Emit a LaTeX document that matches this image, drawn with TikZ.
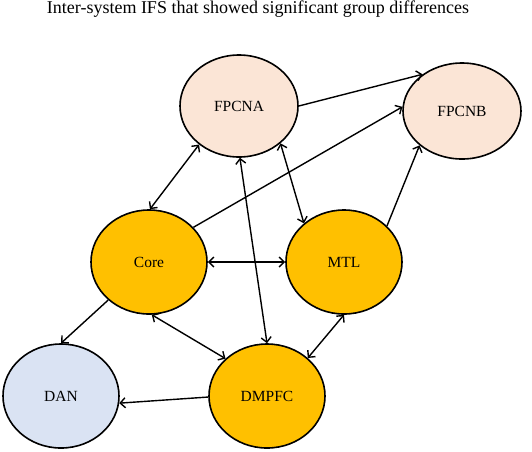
\documentclass[tikz,border=0pt]{standalone}
\usepackage{fontspec}
\setmainfont{Liberation Serif}
\usetikzlibrary{shapes.geometric,arrows.meta}
\definecolor{peach}{HTML}{FBE5D6}
\definecolor{gold}{HTML}{FFC000}
\definecolor{lblue}{HTML}{DAE3F3}
\tikzset{
  net/.style={ellipse, draw=black, line width=1.6pt, minimum width=116pt, minimum height=104pt, inner sep=0pt, font=\fontsize{15.5}{18}\selectfont},
  link/.style={line width=1.4pt, draw=black},
  tip/.style={-{Straight Barb[length=5pt,width=10pt,line width=1.4pt]}},
  tips/.style={{Straight Barb[length=5pt,width=10pt,line width=1.4pt]}-{Straight Barb[length=5pt,width=10pt,line width=1.4pt]}}
}
\begin{document}
\begin{tikzpicture}[x=1pt,y=-1pt]
\useasboundingbox (0,0) rectangle (532,451);
\node[font=\fontsize{18}{20}\selectfont] (title) at (258,9) {Inter-system IFS that showed significant group differences};
\node[net, fill=peach, minimum width=118pt, minimum height=102pt] (fpcna) at (239,106) {FPCNA};
\node[net, fill=peach, minimum width=118pt, minimum height=96pt] (fpcnb) at (462,111) {FPCNB};
\node[net, fill=gold] (core) at (149,262) {Core};
\node[net, fill=gold] (mtl) at (344,262) {MTL};
\node[net, fill=lblue] (dan) at (61,396) {DAN};
\node[net, fill=gold] (dmpfc) at (267,396) {DMPFC};
\draw[link,tip] (fpcna.0) -- (fpcnb.137);
\draw[link,tip] (core.38) -- (fpcnb.176);
\draw[link,tip] (mtl.40) -- (fpcnb.219);
\draw[link,tips] (fpcna.224) -- (core.89);
\draw[link,tips] (fpcna.271) -- (dmpfc.90);
\draw[link,tips] (fpcna.318) -- (mtl.136);
\draw[link,tips] (core.0) -- (mtl.180);
\draw[link,tip] (core.223) -- (dan.90);
\draw[link,tips] (core.273) -- (dmpfc.138);
\draw[link,tips] (mtl.270) -- (dmpfc.43);
\draw[link,tip] (dmpfc.181) -- (dan.353);
\end{tikzpicture}
\end{document}
